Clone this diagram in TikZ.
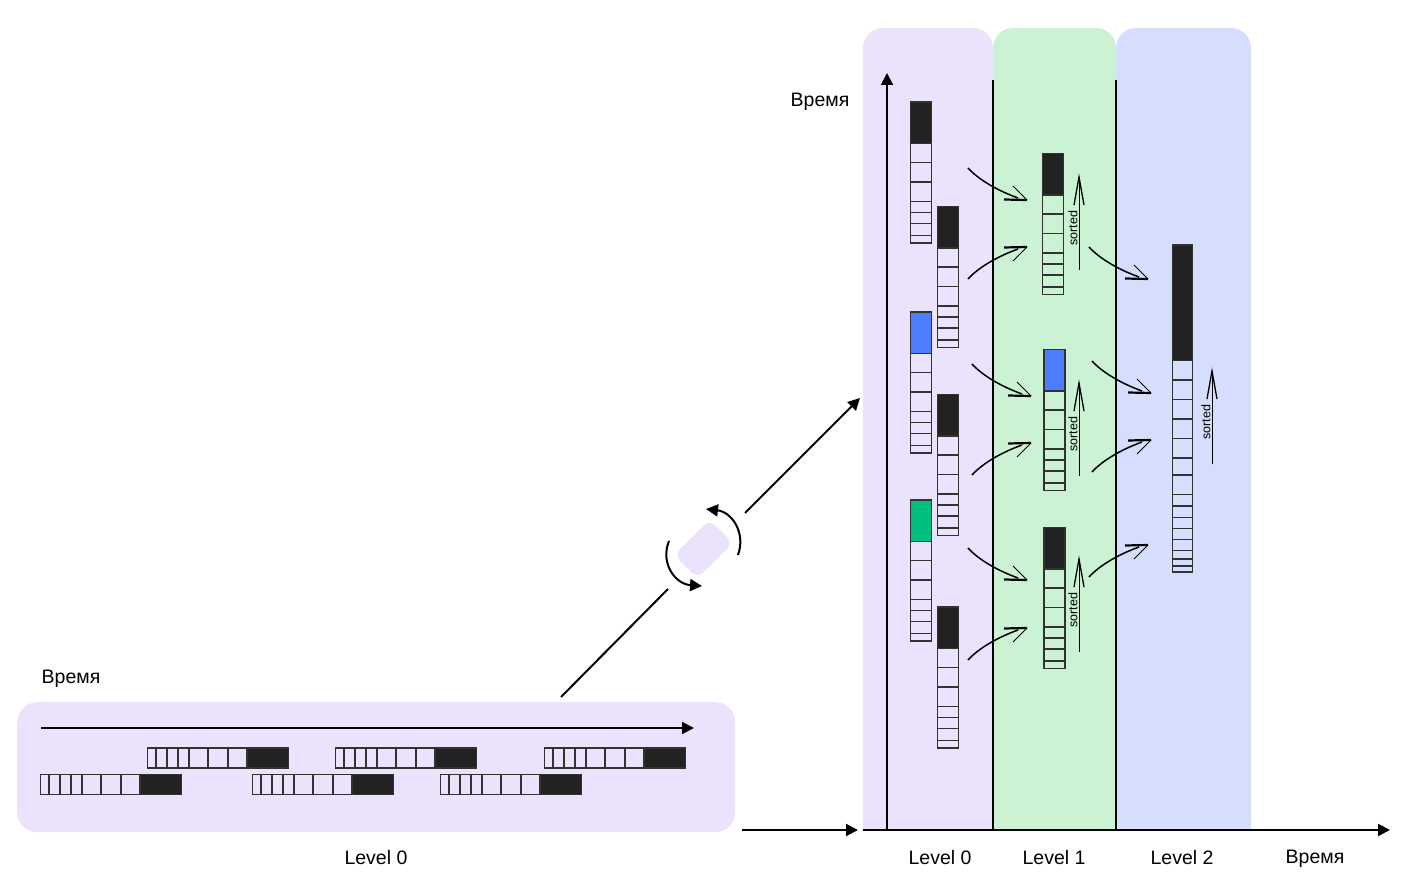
\documentclass[tikz,border=0pt]{standalone}
\usepackage{fontspec}
\setmainfont{Liberation Sans}
\usetikzlibrary{positioning,arrows.meta,calc}
\definecolor{lsmPurple}{RGB}{235,227,251}
\definecolor{lsmGreen}{RGB}{204,242,212}
\definecolor{lsmBlue}{RGB}{214,222,254}
\definecolor{lsmDark}{RGB}{34,34,34}
\definecolor{lsmLine}{RGB}{50,50,50}
\definecolor{lsmHeadBlue}{RGB}{79,125,255}
\definecolor{lsmHeadGreen}{RGB}{0,192,128}
\tikzset{
  lbl/.style={font=\fontsize{19.5}{22}\selectfont, text=black, inner sep=0pt},
  sortedlbl/.style={font=\fontsize{12.5}{14}\selectfont, text=black, inner sep=0pt, rotate=90},
  runbox/.style={draw=lsmLine, line width=1.8pt, inner sep=0pt, outer sep=0pt},
  cellline/.style={draw=lsmLine, line width=1.8pt},
  axis/.style={-{Triangle[length=12pt,width=12pt]}, line width=2pt, black},
  sketch/.style={black, line width=1pt},
  sketchbold/.style={black, line width=2.2pt}
}
% run: name, left, top, head colour, cell fill
\newcommand{\vrun}[5]{
  \node[runbox, fill=#5, anchor=north west, minimum width=21pt, minimum height=141pt] (#1) at (#2+0.5,#3+0.5) {};
  \node[runbox, fill=#4, anchor=north, minimum width=21pt, minimum height=41.5pt] (#1head) at (#1.north) {};
  \foreach \d in {61,80.5,100,111,122,134}
    \draw[cellline] ($(#1.north west)+(0,\d-0.5)$) -- ($(#1.north east)+(0,\d-0.5)$);
}
\newcommand{\hrun}[3]{
  \node[runbox, fill=lsmPurple, anchor=north west, minimum width=141pt, minimum height=20pt] (#1) at (#2+0.5,#3+0.5) {};
  \node[runbox, fill=lsmDark, anchor=east, minimum width=41.5pt, minimum height=20pt] (#1head) at (#1.east) {};
  \foreach \d in {61,81,100,111,122,133}
    \draw[cellline] ($(#1.north east)+(-\d+0.5,0)$) -- ($(#1.south east)+(-\d+0.5,0)$);
}
% merge arrow: name, start x, start y, 1 down or -1 up
\newcommand{\mergearrow}[4]{
  \coordinate (#1s) at (#2,#3);
  \coordinate (#1t) at ($(#1s)+(59,#4*32)$);
  \draw[sketch, line width=1.5pt] (#1s) .. controls ($(#1s)+(10,#4*11)$) and ($(#1s)+(28,#4*22)$) .. ($(#1s)+(50,#4*30)$);
  \draw[sketchbold] ($(#1t)+(-23,#4*-0.5)$) -- (#1t);
  \draw[sketch] ($(#1t)+(-14,#4*-14)$) -- (#1t);
}
% sorted arrow: name, x, tip y
\newcommand{\sortedarrow}[3]{
  \coordinate (#1t) at (#2,#3);
  \coordinate (#1b) at ($(#1t)+(0,93)$);
  \draw[sketch, line width=0.8pt] (#1b) -- (#1t);
  \draw[sketch, line width=1.3pt] ($(#1t)+(-5,28)$) -- (#1t) -- ($(#1t)+(5,28)$);
  \node[sortedlbl] (#1lbl) at ($(#1t)+(-6,51)$) {sorted};
}
\begin{document}
\begin{tikzpicture}[x=1pt, y=-1pt]
  \useasboundingbox (0,0) rectangle (1406,882);

  % Level bands
  \fill[lsmPurple] (863,830) {[rounded corners=20pt] -- (863,28) -- (993,28)} -- (993,830) -- cycle;
  \fill[lsmBlue] (1116,830) {[rounded corners=20pt] -- (1116,28) -- (1251,28)} -- (1251,830) -- cycle;
  \fill[lsmGreen] (993,830) {[rounded corners=20pt] -- (993,28) -- (1116,28)} -- (1116,830) -- cycle;
  \draw[black, line width=2pt] (993,80) -- (993,830);
  \draw[black, line width=2pt] (1116,80) -- (1116,830);

  % Axes
  \coordinate (origin) at (887,830);
  \coordinate (timetop) at (887,73);
  \coordinate (axisleft) at (863,830);
  \coordinate (axisright) at (1390,830);
  \draw[axis] (origin) -- (timetop);
  \draw[axis] (axisleft) -- (axisright);
  \node[lbl] (timey) at (820,102) {Время};
  \node[lbl] (timex) at (1315,859) {Время};
  \node[lbl] (lvlzero) at (940,857.5) {Level 0};
  \node[lbl] (lvlone) at (1054,857.5) {Level 1};
  \node[lbl] (lvltwo) at (1182,857.5) {Level 2};

  % Level 0 runs
  \vrun{za}{910}{101.5}{lsmDark}{lsmPurple}
  \vrun{zb}{937}{206}{lsmDark}{lsmPurple}
  \vrun{zc}{910}{311.5}{lsmHeadBlue}{lsmPurple}
  \vrun{zd}{937}{394}{lsmDark}{lsmPurple}
  \vrun{ze}{910}{499.5}{lsmHeadGreen}{lsmPurple}
  \vrun{zf}{937}{606.5}{lsmDark}{lsmPurple}

  % Level 1 runs
  \vrun{oa}{1042}{153}{lsmDark}{lsmGreen}
  \vrun{ob}{1043.5}{349}{lsmHeadBlue}{lsmGreen}
  \vrun{oc}{1043.5}{527}{lsmDark}{lsmGreen}
  \sortedarrow{sa}{1079}{177}
  \sortedarrow{sb}{1079}{383}
  \sortedarrow{sc}{1079}{559}

  % Level 2 run
  \node[runbox, fill=lsmBlue, anchor=north west, minimum width=20pt, minimum height=327pt] (ta) at (1172.5,245) {};
  \node[runbox, fill=lsmDark, anchor=north, minimum width=20pt, minimum height=115.5pt] (tahead) at (ta.north) {};
  \foreach \d in {135,154.5,174,193.5,213,230,249.5,261,272.5,283.5,294.5,305.5,314,321}
    \draw[cellline] ($(ta.north west)+(0,\d)$) -- ($(ta.north east)+(0,\d)$);
  \sortedarrow{sd}{1212}{371}

  % Merges into level 1
  \mergearrow{ma}{968}{168}{1}
  \mergearrow{mb}{968}{279}{-1}
  \mergearrow{mc}{972}{364}{1}
  \mergearrow{md}{972}{475}{-1}
  \mergearrow{me}{968}{548}{1}
  \mergearrow{mf}{968}{660}{-1}

  % Merges into level 2
  \mergearrow{mg}{1089}{247}{1}
  \mergearrow{mh}{1092}{361}{1}
  \mergearrow{mi}{1092}{472}{-1}
  \mergearrow{mj}{1089}{577}{-1}

  % Flat view of level 0
  \node[fill=lsmPurple, rounded corners=20pt, anchor=north west, minimum width=718pt, minimum height=130pt, inner sep=0pt] (panel) at (17,702) {};
  \coordinate (flatstart) at (41,728);
  \coordinate (flatend) at (694,728);
  \draw[axis] (flatstart) -- (flatend);
  \node[lbl] (timeflat) at (71,679) {Время};
  \node[lbl] (lvlflat) at (376,857.5) {Level 0};
  \hrun{fa}{147}{747.5}
  \hrun{fb}{335}{747.5}
  \hrun{fc}{544}{747.5}
  \hrun{fd}{40}{774}
  \hrun{fe}{252}{774}
  \hrun{ff}{440}{774}
  \coordinate (flatout) at (742,830);
  \coordinate (flatin) at (858,830);
  \draw[axis] (flatout) -- (flatin);

  % Rotation between the two views
  \node[fill=lsmPurple, rounded corners=8pt, rotate=45, minimum width=50pt, minimum height=33pt, inner sep=0pt] (turn) at (703.5,549) {};
  \coordinate (risea) at (561,697);
  \coordinate (riseb) at (668,589);
  \coordinate (risec) at (745,513);
  \coordinate (rised) at (860,398);
  \draw[black, line width=2pt] (risea) -- (riseb);
  \draw[axis] (risec) -- (rised);
  \coordinate (turnas) at (738,555);
  \coordinate (turnat) at (706,509);
  \coordinate (turnbs) at (669,541);
  \coordinate (turnbt) at (702,586);
  \draw[axis] (turnas) .. controls (746,533) and (732,512) .. (turnat);
  \draw[axis] (turnbs) .. controls (660,563) and (675,584) .. (turnbt);
\end{tikzpicture}
\end{document}
